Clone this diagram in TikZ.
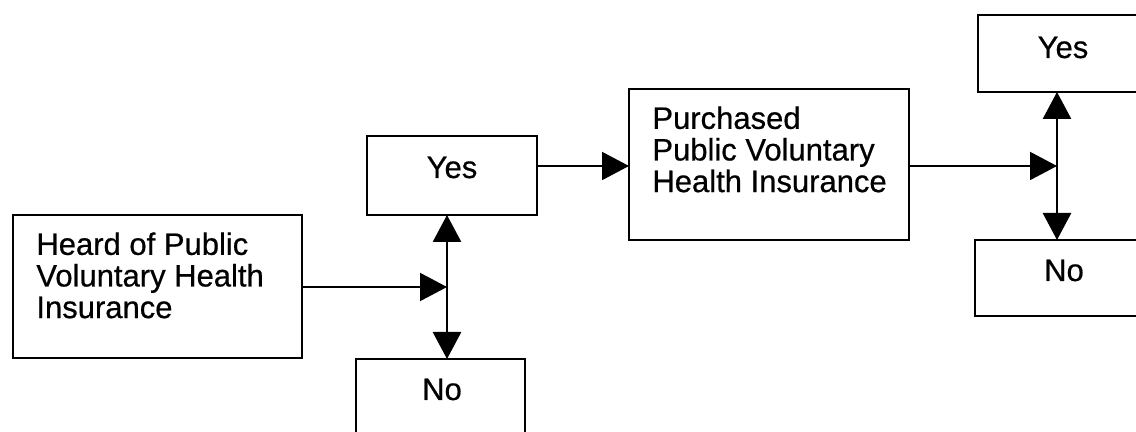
\documentclass[tikz,border=0pt]{standalone}
\usepackage{fontspec}
\setmainfont{Liberation Sans}
\newfontfamily\scanfont{Liberation Sans}[FakeBold=0.6]
\usetikzlibrary{arrows.meta}
\begin{document}
\begin{tikzpicture}[x=0.5pt,y=-0.5pt,
  box/.style={draw, line width=1.3pt, inner sep=0pt, outer sep=0pt, rectangle},
  lbl/.style={inner sep=0pt, font=\scanfont\fontsize{15.5}{15.8}\selectfont, align=left},
  conn/.style={line width=1pt, -{Triangle[length=13.5pt,width=14pt]}},
  fork/.style={line width=1.4pt, {Triangle[length=13.5pt,width=14pt]}-{Triangle[length=13.5pt,width=14pt]}}]
\useasboundingbox (0,0) rectangle (1136,432);
\fill[white] (0,0) rectangle (1136,432);

% boxes
\node[box, minimum width=144.5pt, minimum height=71.5pt] (heard) at (157.5,286.5) {};
\node[box, minimum width=85pt, minimum height=39.5pt] (yes1) at (452,175.5) {};
\node[box, minimum width=84.5pt, minimum height=43pt] (no1) at (440.5,402) {};
\node[box, minimum width=140pt, minimum height=75.5pt] (purch) at (769,164.5) {};
\node[box, minimum width=86pt, minimum height=38.5pt] (yes2) at (1064,53.5) {};
\node[box, minimum width=87.5pt, minimum height=38pt] (no2) at (1062.5,278) {};

% texts
\node[lbl, anchor=north west] (theard) at (36,232) {Heard of Public\\Voluntary Health\\Insurance};
\node[lbl, anchor=north west] (tpurch) at (652,106) {Purchased\\Public Voluntary\\Health Insurance};
\node[lbl, anchor=base] (tyes1) at (452,178) {Yes};
\node[lbl, anchor=base] (tno1) at (442,400) {No};
\node[lbl, anchor=base] (tyes2) at (1063,58) {Yes};
\node[lbl, anchor=base] (tno2) at (1064,281) {No};

% junctions
\coordinate (j1) at (447,287);
\coordinate (j2) at (1057,166);

% connectors
\draw[conn] (heard.east |- j1) -- (j1);
\draw[fork] (yes1.south -| j1) -- (no1.north -| j1);
\draw[conn] (yes1.east |- j2) -- (purch.west |- j2);
\draw[conn] (purch.east |- j2) -- (j2);
\draw[fork] (yes2.south -| j2) -- (no2.north -| j2);
\end{tikzpicture}
\end{document}
